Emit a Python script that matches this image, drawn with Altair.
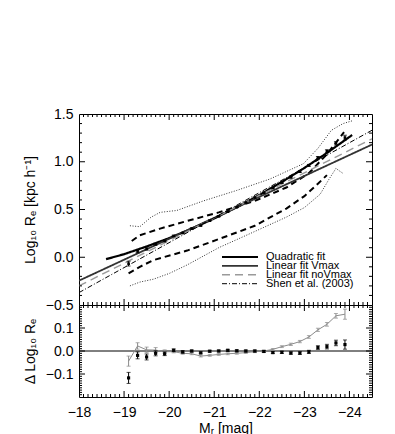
import altair as alt
import pandas as pd

FONT = "Liberation Sans"
W, HT, HB = 293, 191, 92

# ---------------- data ----------------
x_major = [-18, -19, -20, -21, -22, -23, -24]

bin_mag = [-19.1, -19.3, -19.5, -19.7, -19.9, -20.1, -20.3, -20.5, -20.7, -20.9,
           -21.1, -21.3, -21.5, -21.7, -21.9, -22.1, -22.3, -22.5, -22.7, -22.9,
           -23.1, -23.3, -23.5, -23.7, -23.9]
med_re = [-0.067, 0.062, 0.087, 0.137, 0.170, 0.223, 0.254, 0.300, 0.332, 0.383,
          0.429, 0.478, 0.525, 0.573, 0.625, 0.676, 0.725, 0.782, 0.837, 0.896,
          0.962, 1.043, 1.111, 1.193, 1.253]
med_err = [0.025, 0.015, 0.012, 0.010, 0.008, 0.007, 0.006, 0.006, 0.005, 0.005,
           0.005, 0.005, 0.005, 0.005, 0.005, 0.005, 0.006, 0.006, 0.007, 0.008,
           0.010, 0.012, 0.015, 0.018, 0.025]

res_quad = [-0.117, -0.019, -0.026, -0.010, -0.012, 0.003, -0.004, 0.000, -0.008, -0.001,
            0.000, 0.003, 0.001, 0.000, 0.000, -0.002, -0.007, -0.006, -0.009, -0.009,
            -0.004, 0.015, 0.019, 0.035, 0.028]
res_quad_err = [0.024, 0.015, 0.013, 0.011, 0.008, 0.006, 0.005, 0.004, 0.004, 0.004,
                0.004, 0.004, 0.004, 0.004, 0.004, 0.004, 0.004, 0.005, 0.005, 0.006,
                0.007, 0.008, 0.010, 0.012, 0.020]
res_lin = [-0.044, 0.022, 0.005, 0.004, -0.003, -0.003, -0.010, -0.012, -0.022, -0.019,
           -0.015, -0.012, -0.010, -0.007, -0.003, 0.000, 0.007, 0.019, 0.029, 0.041,
           0.061, 0.092, 0.116, 0.153, 0.160]
res_lin_err = [0.022, 0.014, 0.012, 0.011, 0.008, 0.005, 0.004, 0.004, 0.004, 0.004,
               0.004, 0.004, 0.004, 0.004, 0.004, 0.004, 0.004, 0.004, 0.005, 0.005,
               0.006, 0.007, 0.008, 0.010, 0.022]

quad_mag = [-18.6, -19.0, -19.5, -20.0, -20.5, -21.0, -21.5, -22.0, -22.5, -23.0, -23.5, -24.06]
quad_val = [-0.02, 0.032, 0.113, 0.200, 0.300, 0.406, 0.524, 0.651, 0.788, 0.935, 1.092, 1.28]

lin_mag = [-18.0, -24.5]
vmax_val = [-0.245, 1.18]
novmax_val = [-0.30, 1.24]
shen_val = [-0.37, 1.33]

up_dot_mag = [-19.13, -19.35, -19.6, -19.8, -20.17, -20.76, -21.5, -22.24, -22.98, -23.3, -23.6, -23.86, -24.07]
up_dot_val = [0.33, 0.32, 0.42, 0.47, 0.49, 0.59, 0.70, 0.82, 0.98, 1.14, 1.33, 1.40, 1.43]
lo_dot_mag = [-19.13, -19.35, -19.65, -20.0, -20.4, -21.1, -21.9, -22.6, -23.0, -23.35, -23.55, -23.7, -23.85]
lo_dot_val = [-0.30, -0.26, -0.23, -0.17, -0.08, 0.10, 0.27, 0.42, 0.52, 0.66, 0.82, 0.93, 0.88]
up_dash_mag = [-19.17, -19.35, -19.8, -20.4, -21.1, -21.9, -22.6, -23.1, -23.5, -23.88]
up_dash_val = [0.17, 0.23, 0.30, 0.38, 0.47, 0.59, 0.73, 0.88, 1.08, 1.31]
lo_dash_mag = [-19.1, -19.35, -19.65, -20.4, -21.1, -21.9, -22.6, -23.0, -23.3, -23.5]
lo_dash_val = [-0.17, -0.10, -0.03, 0.07, 0.19, 0.33, 0.51, 0.64, 0.77, 0.86]

fit_names = ["Quadratic fit", "Linear fit Vmax", "Linear fit noVmax", "Shen et al. (2003)"]

# tick positions
x_minor = [round(-18 - 0.1 * i, 1) for i in range(1, 65) if i % 10 != 0]
x_inner_major = [-19, -20, -21, -22, -23, -24]
yt_major = [0.0, 0.5, 1.0]
yt_minor = [round(-0.5 + 0.1 * i, 1) for i in range(1, 20) if i % 5 != 0]
yb_major = [-0.1, 0.0, 0.1]
yb_minor = [round(-0.2 + 0.01 * i, 2) for i in range(1, 40) if i % 10 != 0]

# ---------------- scales / axes ----------------
xs = alt.Scale(domain=[-24.5, -18.0], reverse=True, nice=False, zero=False)
ys_top = alt.Scale(domain=[-0.5, 1.5], nice=False, zero=False)
ys_bot = alt.Scale(domain=[-0.2, 0.2], nice=False, zero=False)

AX = dict(ticks=False, domain=False, grid=False, labelFlush=False, labelOverlap=False,
          labelFont=FONT, titleFont=FONT, labelFontSize=14, titleFontSize=14,
          labelColor="black", titleColor="black", titleFontWeight="normal")
ax_y_top = alt.Axis(values=[-0.5, 0.0, 0.5, 1.0, 1.5], format=".1f", labelPadding=6,
                    titlePadding=8, title="Log₁₀ Rₑ [kpc h⁻¹]", **AX)
ax_y_bot = alt.Axis(values=[-0.1, 0.0, 0.1], format=".1f", labelPadding=6,
                    titlePadding=8, title="Δ Log₁₀ Rₑ", **AX)
ax_x_bot = alt.Axis(values=x_major, format="d", labelPadding=8,
                    titlePadding=2, title="Mᵣ [mag]", **AX)

fit_color = alt.Color("series:N", scale=alt.Scale(domain=fit_names, range=["black", "#333333", "#9a9a9a", "black"]), legend=None)
fit_dash = alt.StrokeDash("series:N", scale=alt.Scale(domain=fit_names, range=[[1, 0], [1, 0], [8, 5], [5, 2, 1, 2]]), legend=None)
fit_width = alt.StrokeWidth("series:N", scale=alt.Scale(domain=fit_names, range=[2.2, 1.0, 1.0, 1.3]), legend=None)


def xtop(field, axis=None):
    return alt.X(f"{field}:Q", scale=xs, axis=axis)


def line_layer(mags, vals, **mark):
    df = pd.DataFrame({"mag": mags, "val": vals})
    return alt.Chart(df).mark_line(clip=True, **mark).encode(
        x=xtop("mag"), y=alt.Y("val:Q", scale=ys_top, axis=ax_y_top))


def frame_ticks(h, xaxis, yscale, yaxis, xmaj, xmin, ymaj, ymin, ymin_len):
    layers = []
    for vals, ln in ((xmaj, 6), (xmin, 3)):
        d = pd.DataFrame({"v": vals})
        layers.append(alt.Chart(d).mark_rule(color="black", strokeWidth=1).encode(
            x=alt.X("v:Q", scale=xs, axis=xaxis), y=alt.value(0), y2=alt.value(ln)))
        layers.append(alt.Chart(d).mark_rule(color="black", strokeWidth=1).encode(
            x=alt.X("v:Q", scale=xs, axis=xaxis), y=alt.value(h), y2=alt.value(h - ln)))
    for vals, ln in ((ymaj, 6), (ymin, ymin_len)):
        d = pd.DataFrame({"v": vals})
        layers.append(alt.Chart(d).mark_rule(color="black", strokeWidth=1).encode(
            y=alt.Y("v:Q", scale=yscale, axis=yaxis), x=alt.value(0), x2=alt.value(ln)))
        layers.append(alt.Chart(d).mark_rule(color="black", strokeWidth=1).encode(
            y=alt.Y("v:Q", scale=yscale, axis=yaxis), x=alt.value(W), x2=alt.value(W - ln)))
    return layers


# ---------------- top panel ----------------
dotted = [line_layer(up_dot_mag, up_dot_val, color="#333333", strokeWidth=1, strokeDash=[1, 1.6]),
          line_layer(lo_dot_mag, lo_dot_val, color="#333333", strokeWidth=1, strokeDash=[1, 1.6])]
dashed = [line_layer(up_dash_mag, up_dash_val, color="black", strokeWidth=2, strokeDash=[6, 4]),
          line_layer(lo_dash_mag, lo_dash_val, color="black", strokeWidth=2, strokeDash=[6, 4])]

fits_df = pd.concat([
    pd.DataFrame({"series": fit_names[0], "mag": quad_mag, "val": quad_val}),
    pd.DataFrame({"series": fit_names[1], "mag": lin_mag, "val": vmax_val}),
    pd.DataFrame({"series": fit_names[2], "mag": lin_mag, "val": novmax_val}),
    pd.DataFrame({"series": fit_names[3], "mag": lin_mag, "val": shen_val}),
], ignore_index=True)
fits = alt.Chart(fits_df).mark_line(clip=True).encode(
    x=xtop("mag"), y=alt.Y("val:Q", scale=ys_top, axis=ax_y_top),
    color=fit_color, strokeDash=fit_dash, strokeWidth=fit_width, detail="series:N")

med_df = pd.DataFrame({"mag": bin_mag, "val": med_re, "err": med_err})
med_base = alt.Chart(med_df).transform_calculate(lo="datum.val - datum.err", hi="datum.val + datum.err")
med_bars = med_base.mark_rule(color="black", strokeWidth=1).encode(
    x=xtop("mag"), y=alt.Y("lo:Q", scale=ys_top, axis=ax_y_top), y2="hi:Q")
med_cap_lo = med_base.mark_tick(color="black", orient="horizontal", size=4, thickness=1).encode(
    x=xtop("mag"), y=alt.Y("lo:Q", scale=ys_top, axis=ax_y_top))
med_cap_hi = med_base.mark_tick(color="black", orient="horizontal", size=4, thickness=1).encode(
    x=xtop("mag"), y=alt.Y("hi:Q", scale=ys_top, axis=ax_y_top))
med_pts = alt.Chart(med_df).mark_square(color="black", size=7, opacity=1).encode(
    x=xtop("mag"), y=alt.Y("val:Q", scale=ys_top, axis=ax_y_top))

leg_df = pd.DataFrame({"series": fit_names, "row": [0, 1, 2, 3]})
leg_base = alt.Chart(leg_df).transform_calculate(ly="143 + 8.9 * datum.row")
leg_lines = leg_base.mark_rule().encode(
    x=alt.value(143), x2=alt.value(179), y=alt.Y("ly:Q", scale=None, axis=None),
    color=fit_color, strokeDash=fit_dash, strokeWidth=fit_width)
leg_text = leg_base.mark_text(align="left", baseline="middle", font=FONT, fontSize=11, color="black").encode(
    x=alt.value(187), y=alt.Y("ly:Q", scale=None, axis=None), text="series:N")

top_layers = dotted + dashed + [fits, med_bars, med_cap_lo, med_cap_hi, med_pts] + \
    frame_ticks(HT, None, ys_top, ax_y_top, x_inner_major, x_minor, yt_major, yt_minor, 3) + \
    [leg_lines, leg_text]
top = alt.layer(*top_layers).properties(width=W, height=HT)

# ---------------- bottom panel ----------------
zero = alt.Chart(pd.DataFrame({"z": [0.0]})).mark_rule(color="black", strokeWidth=1).encode(
    y=alt.Y("z:Q", scale=ys_bot, axis=ax_y_bot))


def resid_layers(vals, errs, color, connect):
    df = pd.DataFrame({"mag": bin_mag, "val": vals, "err": errs})
    base = alt.Chart(df).transform_calculate(lo="datum.val - datum.err", hi="datum.val + datum.err")
    out = [
        base.mark_rule(color=color, strokeWidth=1).encode(
            x=xtop("mag", ax_x_bot), y=alt.Y("lo:Q", scale=ys_bot, axis=ax_y_bot), y2="hi:Q"),
        base.mark_tick(color=color, orient="horizontal", size=4, thickness=1).encode(
            x=xtop("mag", ax_x_bot), y=alt.Y("lo:Q", scale=ys_bot, axis=ax_y_bot)),
        base.mark_tick(color=color, orient="horizontal", size=4, thickness=1).encode(
            x=xtop("mag", ax_x_bot), y=alt.Y("hi:Q", scale=ys_bot, axis=ax_y_bot)),
    ]
    if connect:
        out.append(alt.Chart(df).mark_line(color=color, strokeWidth=1).encode(
            x=xtop("mag", ax_x_bot), y=alt.Y("val:Q", scale=ys_bot, axis=ax_y_bot)))
    else:
        out.append(alt.Chart(df).mark_square(color=color, size=10, opacity=1).encode(
            x=xtop("mag", ax_x_bot), y=alt.Y("val:Q", scale=ys_bot, axis=ax_y_bot)))
    return out


bot_layers = [zero] + resid_layers(res_lin, res_lin_err, "#8c8c8c", True) + \
    resid_layers(res_quad, res_quad_err, "black", False) + \
    frame_ticks(HB, ax_x_bot, ys_bot, ax_y_bot, x_inner_major, x_minor, yb_major, yb_minor, 3)
bottom = alt.layer(*bot_layers).properties(width=W, height=HB)

chart = alt.vconcat(top, bottom, spacing=0, bounds="flush").properties(
    padding={"left": 14, "top": 98, "right": 5, "bottom": 0}
).configure_view(stroke="black", strokeWidth=1)

chart.save("out.html", embed_options={"renderer": "svg", "actions": False})
